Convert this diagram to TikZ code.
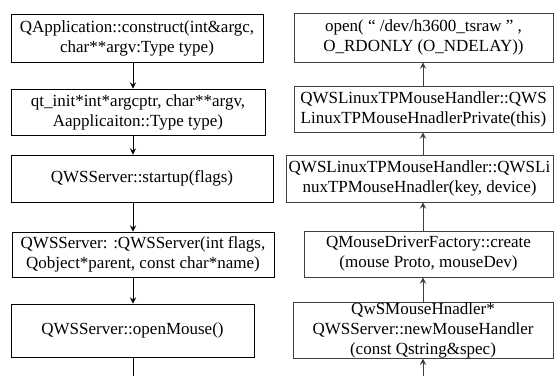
\documentclass[tikz,border=0pt]{standalone}
\usepackage{fontspec}
\setmainfont{Liberation Serif}
\usepackage{tikz}
\usetikzlibrary{arrows}
\tikzstyle{callbox} = [rectangle, draw=black, inner sep=0pt, align=center, font=\fontsize{8.5pt}{10pt}\selectfont]
\tikzstyle{grybox} = [callbox, draw=black!75]
\tikzstyle{arrow} = [->,>=stealth]

\begin{document}
\begin{tikzpicture}[x=0.5pt,y=-0.5pt]
	\useasboundingbox (0,0) rectangle (554,376);

	% call chain, left column (downwards)
	\node (init) [callbox, minimum width=126pt, minimum height=24pt] at (137,38) {QApplication::construct(int\&argc,\\char**argv:Type type)};
	\node (qtinit) [callbox, minimum width=127pt, minimum height=23pt] at (138,112) {qt\_init*int*argcptr, char**argv,\\Aapplicaiton::Type type)};
	\node (startup) [callbox, minimum width=131pt, minimum height=23.5pt] at (142,178.5) {QWSServer::startup(flags)};
	\node (server) [callbox, minimum width=131pt, minimum height=22.5pt] at (143,254.5) {QWSServer: :QWSServer(int flags,\\Qobject*parent, const char*name)};
	\node (openm) [callbox, minimum width=121.5pt, minimum height=26.5pt] at (132.5,330.5) {QWSServer::openMouse()};
	\coordinate (lcol) at (133,0);
	\coordinate (lend) at (133,376);

	% right column (upwards)
	\node (open) [grybox, minimum width=129.5pt, minimum height=24.5pt] at (423.5,37.5) {open( “ /dev/h3600\_tsraw ” ,\\O\_RDONLY (O\_NDELAY))};
	\node (priv) [grybox, minimum width=129.5pt, minimum height=23pt] at (423.5,109) {QWSLinuxTPMouseHandler::QWS\\LinuxTPMouseHnadlerPrivate(this)};
	\node (handler) [grybox, minimum width=133.5pt, minimum height=23.5pt] at (419.5,178.5) {QWSLinuxTPMouseHandler::QWSLi\\nuxTPMouseHnadler(key, device)};
	\node (factory) [grybox, minimum width=124.5pt, minimum height=23pt] at (428.5,254) {QMouseDriverFactory::create\\(mouse Proto, mouseDev)};
	\node (newmh) [grybox, minimum width=130pt, minimum height=27.5pt] at (423,330.5) {QwSMouseHnadler*\\QWSServer::newMouseHandler\\(const Qstring\&spec)};
	\coordinate (rcol) at (423,0);
	\coordinate (rend) at (423,376);

	\draw [arrow] (init.south -| lcol) -- (qtinit.north -| lcol);
	\draw [arrow] (qtinit.south -| lcol) -- (startup.north -| lcol);
	\draw [arrow] (startup.south -| lcol) -- (server.north -| lcol);
	\draw [arrow] (server.south -| lcol) -- (openm.north -| lcol);
	\draw (openm.south -| lcol) -- (lend);

	\draw [arrow, black!75] (rend) -- (newmh.south -| rcol);
	\draw [arrow, black!75] (newmh.north -| rcol) -- (factory.south -| rcol);
	\draw [arrow, black!75] (factory.north -| rcol) -- (handler.south -| rcol);
	\draw [arrow, black!75] (handler.north -| rcol) -- (priv.south -| rcol);
	\draw [arrow, black!75] (priv.north -| rcol) -- (open.south -| rcol);

\end{tikzpicture}
\end{document}
